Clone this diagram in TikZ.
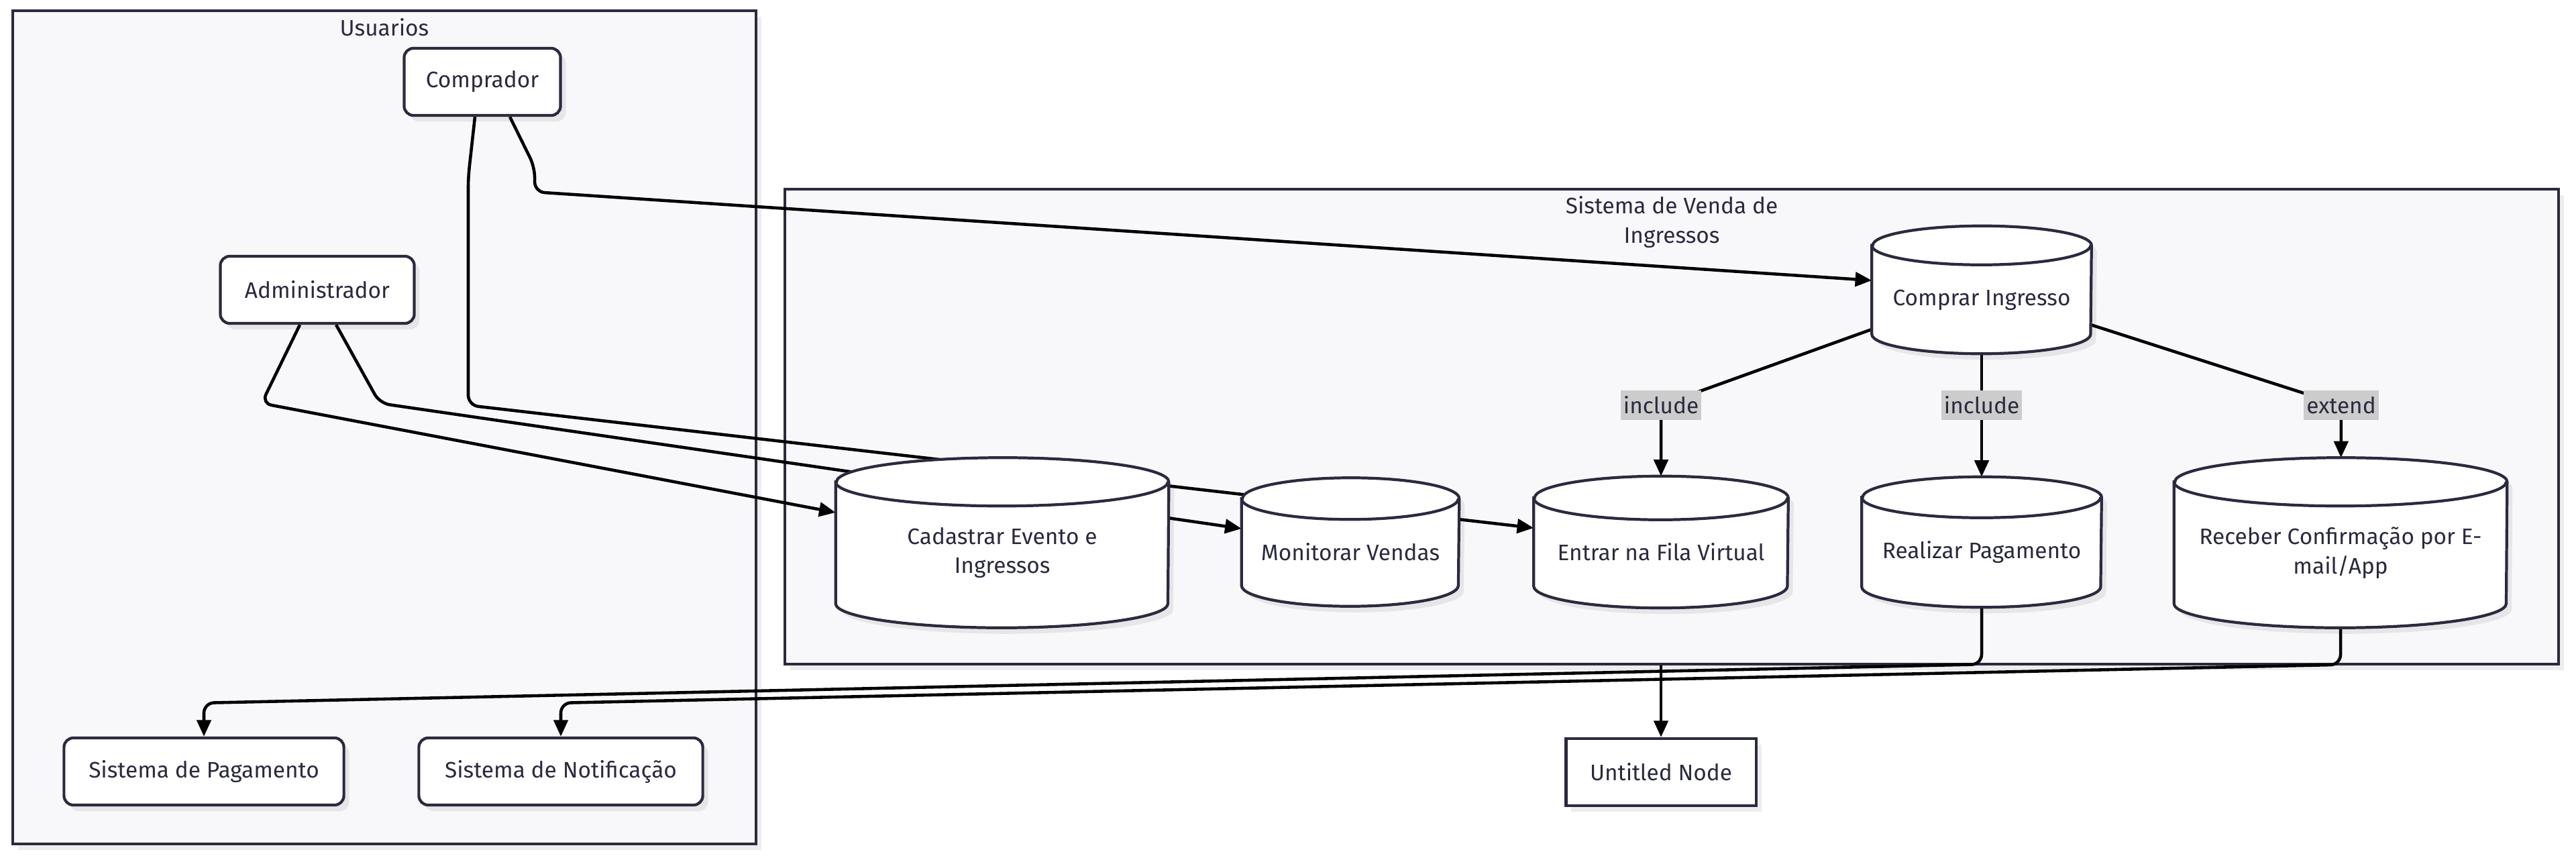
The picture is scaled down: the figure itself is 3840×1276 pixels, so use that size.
\documentclass[tikz,border=0pt]{standalone}
\usepackage{fontspec}
\setmainfont{Fira Sans}
\usepackage{tikz}
\usetikzlibrary{arrows.meta, positioning, shadows}

\definecolor{ink}{HTML}{2A2A3F}
\definecolor{panel}{HTML}{F8F8FA}
\definecolor{tagbg}{HTML}{CCCCCC}

\pgfdeclarelayer{frames}
\pgfdeclarelayer{links}
\pgfsetlayers{frames,links,main}

\begin{document}
\begin{tikzpicture}[x=0.01cm, y=-0.01cm,
  every node/.style={font=\fontsize{9.5}{12.5}\selectfont, text=ink},
  softshadow/.style={drop shadow={shadow xshift=0.08cm, shadow yshift=-0.09cm, fill=black, opacity=0.07}},
  frame/.style={rectangle, draw=ink, line width=1pt, fill=panel, softshadow},
  actor/.style={rectangle, draw=ink, line width=1.2pt, fill=white, rounded corners=0.14cm, minimum height=1cm, softshadow},
  plainbox/.style={rectangle, draw=ink, line width=1.2pt, fill=white, minimum height=1cm, softshadow},
  usecase/.style={rectangle, inner sep=0pt},
  cylbody/.style={draw=ink, line width=1.2pt, fill=white, softshadow},
  cylrim/.style={draw=ink, line width=1.2pt},
  casetext/.style={align=center, yshift=-0.15cm},
  tag/.style={fill=tagbg, inner xsep=0.04cm, inner ysep=0.09cm},
  edge/.style={draw=black, line width=1.3pt, -{Triangle[length=7pt,width=6pt]}},
  title/.style={inner sep=0pt, align=center}]
\useasboundingbox (0,0) rectangle (3840,1276);

% Subgraph frames
\begin{pgfonlayer}{frames}
\node[frame, minimum width=11.07cm, minimum height=12.41cm] (usuarios) at (573,637) {};
\node[frame, minimum width=26.42cm, minimum height=7.08cm] (sistema) at (2492,636) {};
\end{pgfonlayer}
\node[title, below=0.12cm of usuarios.north] {Usuarios};
\node[title, below=0.12cm of sistema.north] {Sistema de Venda de\\Ingressos};

% Actors
\node[actor, minimum width=2.33cm] (comprador) at (719,122) {Comprador};
\node[actor, minimum width=2.89cm] (admin) at (473,432) {Administrador};

% Use cases (cylinders)
\node[usecase, minimum width=3.26cm, minimum height=1.89cm] (buy) at (2954,432) {};
\node[usecase, minimum width=4.95cm, minimum height=2.52cm] (cad) at (1494,809) {};
\node[usecase, minimum width=3.23cm, minimum height=1.90cm] (mon) at (2013,808) {};
\node[usecase, minimum width=3.78cm, minimum height=1.95cm] (fila) at (2476,808) {};
\node[usecase, minimum width=3.56cm, minimum height=1.93cm] (pay) at (2954,808) {};
\node[usecase, minimum width=4.95cm, minimum height=2.52cm] (recv) at (3489,809) {};
\foreach \n/\w/\r in {buy/1.63/0.29, cad/2.475/0.36, mon/1.615/0.31, fila/1.89/0.325, pay/1.78/0.305, recv/2.475/0.36}{
  \draw[cylbody] ([yshift=-\r cm]\n.north west) -- ([yshift=\r cm]\n.south west)
    arc[start angle=180, end angle=360, x radius=\w cm, y radius=\r cm]
    -- ([yshift=-\r cm]\n.north east)
    arc[start angle=0, end angle=180, x radius=\w cm, y radius=\r cm] -- cycle;
  \draw[cylrim] ([yshift=-\r cm]\n.north west)
    arc[start angle=180, end angle=360, x radius=\w cm, y radius=\r cm];
}
\node[casetext] (buytxt) at (buy) {Comprar Ingresso};
\node[casetext] (cadtxt) at (cad) {Cadastrar Evento e\\Ingressos};
\node[casetext] (montxt) at (mon) {Monitorar Vendas};
\node[casetext] (filatxt) at (fila) {Entrar na Fila Virtual};
\node[casetext] (paytxt) at (pay) {Realizar Pagamento};
\node[casetext] (recvtxt) at (recv) {Receber Confirmação por E-\\mail/App};

% External systems
\node[actor, minimum width=4.17cm] (pagto) at (304,1150) {Sistema de Pagamento};
\node[actor, minimum width=4.23cm] (notif) at (836,1150) {Sistema de Notificação};
\node[plainbox, minimum width=2.83cm] (untitled) at (2476,1151) {Untitled Node};

% Edge labels
\node[tag] (inc1) at (2476,604) {include};
\node[tag] (inc2) at (2954,604) {include};
\node[tag] (ext) at (3490,604) {extend};

% Connectors
\begin{pgfonlayer}{links}
\draw[edge, rounded corners=0.15cm] ([xshift=0.41cm]comprador.south) -- ++(37,75) -- ++(0,37) -- ([yshift=0.14cm]buy.west);
\draw[edge, rounded corners=0.15cm] ([xshift=-0.11cm]comprador.south) -- ++(-10,90) -- ++(0,340) -- ([yshift=0.21cm]fila.west);
\draw[edge, rounded corners=0.15cm] ([xshift=-0.26cm]admin.south) -- ++(-57,117) -- ([yshift=0.45cm]cad.west);
\draw[edge, rounded corners=0.15cm] ([xshift=0.28cm]admin.south) -- ++(65,117) -- ([yshift=0.2cm]mon.west);
\draw[edge] (buy) -- (inc1.center) -- (fila);
\draw[edge] (buy) -- (inc2.center) -- (pay);
\draw[edge] (buy) -- (ext.center) -- (recv);
\draw[edge, rounded corners=0.15cm] (pay.south) -- ++(0,85) -- ([yshift=0.5cm]pagto.north) -- (pagto.north);
\draw[edge, rounded corners=0.15cm] (recv.south) -- ++(0,55) -- ([yshift=0.5cm]notif.north) -- (notif.north);
\draw[edge] (sistema.south -| untitled.north) -- (untitled.north);
\end{pgfonlayer}
\end{tikzpicture}
\end{document}
